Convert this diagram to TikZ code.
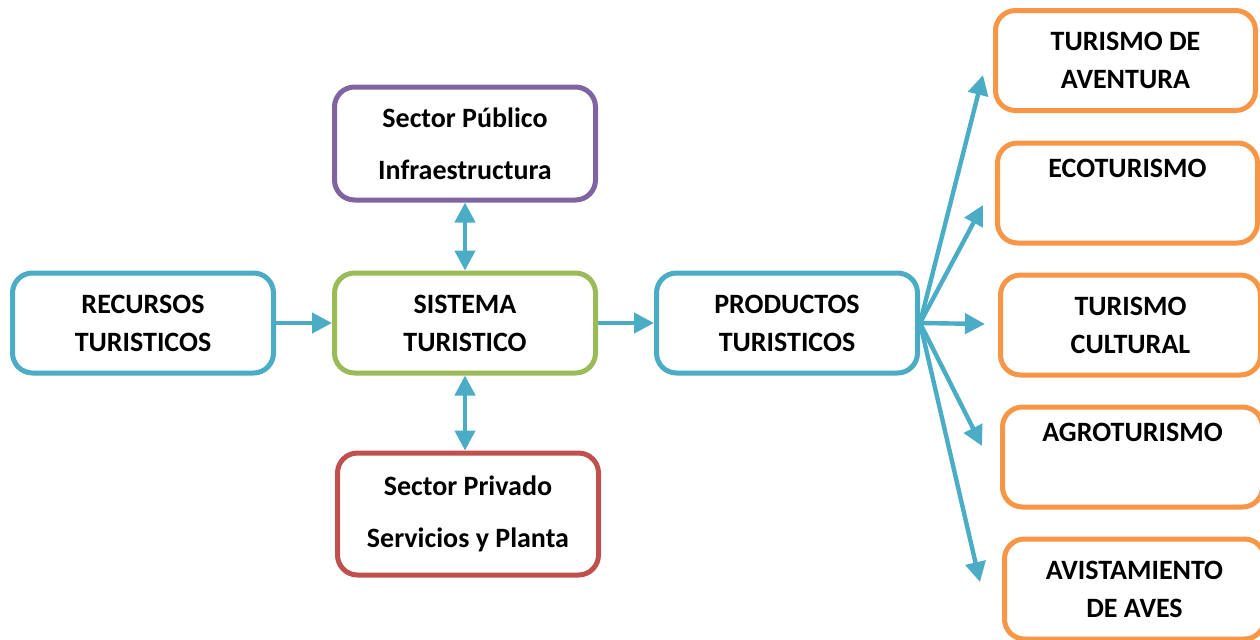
\documentclass[tikz,border=0pt]{standalone}
\usepackage{fontspec}
\setmainfont{Carlito}
\usepackage{xcolor}
\usetikzlibrary{arrows.meta,positioning}
\definecolor{linkblue}{HTML}{4BACC6}
\definecolor{sysgreen}{HTML}{9BBB59}
\definecolor{pubpurple}{HTML}{8064A2}
\definecolor{privred}{HTML}{C0504D}
\definecolor{prodorange}{HTML}{F79646}
\begin{document}
\begin{tikzpicture}[
  x=0.5pt,y=-0.5pt,
  node distance=28pt,
  box/.style={draw,rounded corners=10pt,line width=2.5pt,fill=white,align=center,
    font=\bfseries\fontsize{14}{19}\selectfont,minimum width=130.5pt,minimum height=50pt},
  sector/.style={box,font=\bfseries\fontsize{14}{26}\selectfont},
  prod/.style={box,draw=prodorange,minimum width=130pt,minimum height=50pt},
  link/.style={draw=linkblue,line width=2.2pt,-{Triangle[length=10pt,width=10pt]}},
  both/.style={link,{Triangle[length=10pt,width=10pt]}-{Triangle[length=10pt,width=10pt]}}
]
\useasboundingbox (0,0) rectangle (1260,639);
\node[box,draw=sysgreen] (sistema) at (465,323) {SISTEMA\\TURISTICO};
\node[box,draw=linkblue,left=of sistema] (recursos) {RECURSOS\\TURISTICOS};
\node[box,draw=linkblue,right=of sistema] (productos) {PRODUCTOS\\TURISTICOS};
\node[sector,draw=pubpurple,minimum height=56.5pt,above=34pt of sistema] (publico) {Sector Público\\Infraestructura};
\node[sector,draw=privred,minimum height=61pt,below=37.5pt of sistema,xshift=1.5pt] (privado) {Sector Privado\\Servicios y Planta};
% productos turisticos
\node[prod] (aventura) at (1125.5,60.5) {TURISMO DE\\AVENTURA};
\node[prod] (eco) at (1127.5,193) {ECOTURISMO\\\strut};
\node[prod] (cultural) at (1130.5,325) {TURISMO\\CULTURAL};
\node[prod] (agro) at (1132.5,457) {AGROTURISMO\\\strut};
\node[prod] (aves) at (1134.5,589) {AVISTAMIENTO\\DE AVES};
\coordinate (tipA) at (983,75);
\coordinate (tipB) at (983,205);
\coordinate (tipC) at (985,324);
\coordinate (tipD) at (982,446);
\coordinate (tipE) at (980,582);
\draw[link] (recursos) -- (sistema);
\draw[link] (sistema) -- (productos);
\draw[both] (publico) -- (sistema);
\draw[both] (sistema) -- (privado.north -| sistema.south);
\draw[link] (productos.east) -- (tipA);
\draw[link] (productos.east) -- (tipB);
\draw[link] (productos.east) -- (tipC);
\draw[link] (productos.east) -- (tipD);
\draw[link] (productos.east) -- (tipE);
\end{tikzpicture}
\end{document}
